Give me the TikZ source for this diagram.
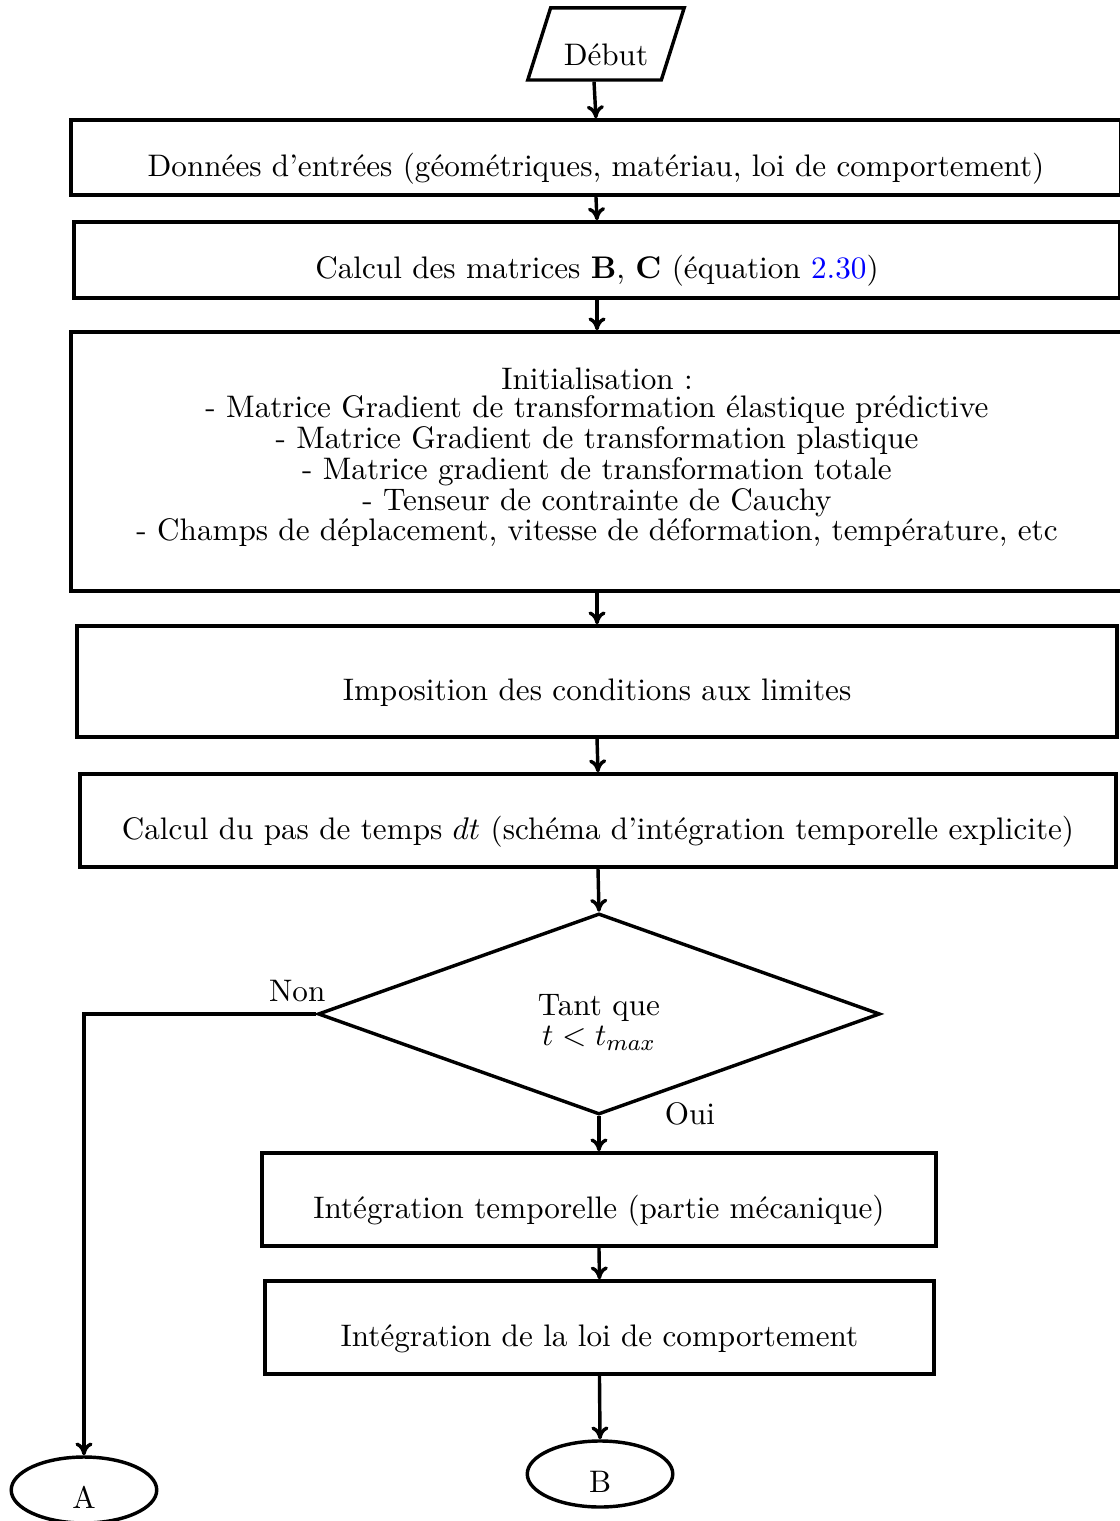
\documentclass[tikz,border=0pt]{standalone}
\usepackage{amsmath}
\usepackage{xcolor}
\usetikzlibrary{arrows.meta,shapes.geometric}

\begin{document}
\begin{tikzpicture}[every node/.style={font=\fontsize{10.9}{10.8}\selectfont},
  box/.style={draw,very thick,rectangle,text height=13pt,text depth=0pt},
  io/.style={draw,very thick,trapezium,trapezium left angle=71,
    trapezium right angle=109,trapezium stretches=true,
    minimum width=1.93cm,minimum height=0.886cm,text height=15pt,text depth=0pt},
  decision/.style={draw,very thick,diamond,aspect=2.8,align=center,
    minimum width=6.913cm,minimum height=2.473cm,text height=24pt},
  term/.style={draw,very thick,ellipse,inner sep=0pt,minimum width=1.79cm,
    minimum height=0.812cm,text height=13pt,text depth=0pt},
  flow/.style={very thick,-{To[length=4.5pt,width=6pt]}}]
  \useasboundingbox (0,0) rectangle (13.765,18.71);
  % start
  \node[io] (debut) at (7.454,18.169) {Début};
  % input data and matrices
  \node[box,minimum width=12.916cm,minimum height=0.923cm] (donnees) at (7.331,16.772)
    {Données d'entrées (géométriques, matériau, loi de comportement)};
  \node[box,minimum width=12.867cm,minimum height=0.935cm] (matrices) at (7.344,15.512)
    {Calcul des matrices $\mathbf{B}$, $\mathbf{C}$ (équation \textcolor{blue}{2.30})};
  % initialisation
  \node[draw,very thick,align=center,text depth=5pt,
    minimum width=12.941cm,minimum height=3.186cm]
    (init) at (7.344,13.033)
    {Initialisation :\\[-1pt]
     - Matrice Gradient de transformation élastique prédictive\\
     - Matrice Gradient de transformation plastique\\
     - Matrice gradient de transformation totale\\
     - Tenseur de contrainte de Cauchy\\
     - Champs de déplacement, vitesse de déformation, température, etc};
  % boundary conditions and time step
  \node[box,minimum width=12.793cm,minimum height=1.365cm] (limites) at (7.344,10.327)
    {Imposition des conditions aux limites};
  \node[box,minimum width=12.744cm,minimum height=1.144cm] (pas) at (7.356,8.617)
    {Calcul du pas de temps $dt$ (schéma d'intégration temporelle explicite)};
  % time loop
  \node[decision] (tantque) at (7.368,6.237) {Tant que\\$t<t_{max}$};
  \node[box,minimum width=8.291cm,minimum height=1.144cm] (integ) at (7.368,3.955)
    {Intégration temporelle (partie mécanique)};
  \node[box,minimum width=8.229cm,minimum height=1.144cm] (loi) at (7.374,2.380)
    {Intégration de la loi de comportement};
  % connectors
  \node[term] (finB) at (7.381,0.578) {B};
  \node[term] (finA) at (1.033,0.381) {A};
  \node (non) at ([xshift=-0.234cm,yshift=0.283cm]tantque.west) {Non};
  \node (oui) at ([xshift=1.12cm,yshift=0.025cm]tantque.south) {Oui};
  % arrows
  \draw[flow] (debut.bottom side) -- (donnees.north);
  \draw[flow] (donnees.south) -- (matrices.north);
  \draw[flow] (matrices.south) -- (init.north);
  \draw[flow] (init.south) -- (limites.north);
  \draw[flow] (limites.south) -- (pas.north);
  \draw[flow] (pas.south) -- (tantque.north);
  \draw[flow] (tantque.south) -- (integ.north);
  \draw[flow] (integ.south) -- (loi.north);
  \draw[flow] (loi.south) -- (finB.north);
  \draw[flow] (tantque.west) -- (finA |- tantque.west) -- (finA.north);
\end{tikzpicture}
\end{document}
